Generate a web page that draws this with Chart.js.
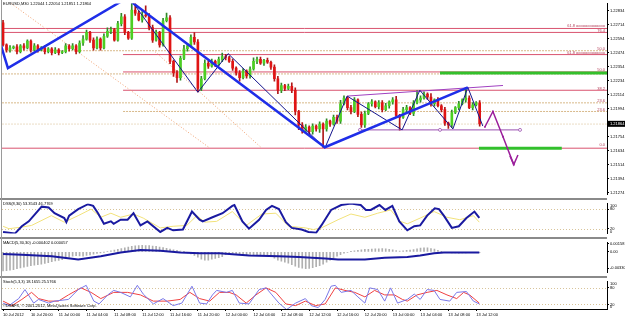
<!DOCTYPE html>
<html>
<head>
<meta charset="utf-8">
<script src="https://cdn.jsdelivr.net/npm/chart.js@4.4.0/dist/chart.umd.min.js"></script>
<style>
body { margin: 0; background: #fff; }
#wrap { position: relative; width: 625px; height: 319px; overflow: hidden; background: #fff; font-family: 'Liberation Sans', Arial, sans-serif; }
.pane { position: absolute; left: 0; }
.sep { position: absolute; left: 0; width: 607px; height: 2px; background: #8a8a8a; z-index: 5; }
.ttl { position: absolute; left: 3px; font-size: 4px; line-height: 5px; color: #000; white-space: nowrap; z-index: 6; }
#lborder { position: absolute; left: 1px; top: 0; width: 1px; height: 310px; background: #9a9a9a; z-index: 5; }
</style>
</head>
<body>
<div id="wrap">
  <canvas id="main" class="pane" style="top:0" width="625" height="198"></canvas>
  <div class="sep" style="top:198px"></div>
  <canvas id="dss" class="pane" style="top:200px" width="625" height="37"></canvas>
  <div class="sep" style="top:237px"></div>
  <canvas id="macd" class="pane" style="top:239px" width="625" height="37"></canvas>
  <div class="sep" style="top:276px"></div>
  <canvas id="stoch" class="pane" style="top:278px" width="625" height="41"></canvas>
  <div id="lborder"></div>
  <div class="ttl" style="top:1px">EURUSD,M30 1.22044 1.22054 1.21851 1.21864</div>
  <div class="ttl" style="top:201px">DSS(8,30) 53.3543 46.7769</div>
  <div class="ttl" style="top:240px">MACD(5,30,30) -0.000402 0.000057</div>
  <div class="ttl" style="top:279px">Stoch(5,3,3) 18.1655 25.5766</div>
  <div class="ttl" style="top:303px">©DSAFX, © 2001-2012, MetaQuotes Software Corp.</div>
</div>
<script>
// ---- データ ----
const FONT = "'Liberation Sans', Arial, sans-serif";
const X_MIN = -0.3;
const X_MAX = 173.6;
const PIP = 0.0001;

// 10 Jul 16:00 から 30分足
const FIRST_OPEN = 1.22731;
const closes = [
    1.22541, 1.22499, 1.22516, 1.22524, 1.22483, 1.22533, 1.22516, 1.22574, 1.22499, 1.22533,
    1.22499, 1.22516, 1.22483, 1.22508, 1.22475, 1.22499, 1.22475, 1.22483, 1.22533, 1.22508,
    1.22533, 1.22483, 1.22557, 1.22591, 1.22648, 1.22582, 1.22516, 1.22591, 1.22516, 1.22615,
    1.22657, 1.22673, 1.22582, 1.22723, 1.22781, 1.22648, 1.22599, 1.22839, 1.22814, 1.22756,
    1.22797, 1.22789, 1.22690, 1.22582, 1.22648, 1.22541, 1.22748, 1.22773, 1.22400, 1.22301,
    1.22259, 1.22425, 1.22508, 1.22533, 1.22607, 1.22566, 1.22168, 1.22251, 1.22384, 1.22359,
    1.22400, 1.22375, 1.22417, 1.22441, 1.22433, 1.22400, 1.22342, 1.22301, 1.22259, 1.22317,
    1.22276, 1.22334, 1.22400, 1.22417, 1.22384, 1.22408, 1.22392, 1.22350, 1.22251, 1.22152,
    1.22193, 1.22168, 1.22185, 1.22152, 1.21970, 1.21854, 1.21804, 1.21837, 1.21796, 1.21845,
    1.21821, 1.21862, 1.21821, 1.21887, 1.21862, 1.21920, 1.21887, 1.22036, 1.22085, 1.22003,
    1.21970, 1.22069, 1.21945, 1.21854, 1.21953, 1.22036, 1.22052, 1.22011, 1.22044, 1.21986,
    1.22019, 1.22052, 1.22069, 1.21936, 1.21920, 1.21986, 1.22003, 1.21953, 1.22044, 1.22069,
    1.22085, 1.22119, 1.22094, 1.22036, 1.22069, 1.22019, 1.21986, 1.21870, 1.21854, 1.21961,
    1.22003, 1.22036, 1.22069, 1.22085, 1.22003, 1.22027, 1.22044, 1.21864
];
// ヒゲの長さ (pips)
const wickUp = [
    2, 1, 2, 1, 2, 1, 2, 1, 1, 2, 1, 1, 2, 1, 1, 2, 1, 1, 2, 1,
    2, 1, 2, 3, 2, 1, 2, 2, 1, 2, 3, 2, 1, 2, 3, 2, 1, 6, 6, 2,
    3, 8, 2, 2, 2, 1, 2, 4, 2, 1, 2, 2, 3, 2, 2, 4, 2, 2, 3, 2,
    2, 1, 2, 3, 2, 1, 2, 1, 2, 2, 1, 2, 3, 2, 2, 1, 2, 1, 2, 2,
    2, 1, 2, 3, 2, 1, 2, 2, 1, 2, 1, 2, 1, 2, 1, 2, 2, 3, 2, 1,
    2, 2, 1, 2, 2, 1, 2, 1, 2, 2, 2, 1, 2, 3, 1, 2, 2, 1, 2, 8,
    2, 2, 1, 3, 1, 2, 1, 2, 1, 2, 1, 2, 1, 9, 2, 2, 1, 2
];
const wickDn = [
    1, 2, 2, 1, 2, 1, 2, 1, 2, 1, 2, 1, 2, 1, 2, 1, 2, 1, 1, 2,
    1, 2, 1, 2, 1, 2, 2, 1, 2, 1, 1, 2, 1, 1, 2, 2, 1, 1, 2, 1,
    2, 1, 2, 2, 1, 2, 1, 1, 2, 3, 4, 2, 1, 2, 1, 2, 3, 2, 1, 2,
    1, 2, 1, 2, 2, 1, 2, 2, 3, 1, 2, 2, 1, 2, 1, 2, 1, 2, 2, 3,
    2, 2, 1, 2, 3, 4, 2, 2, 3, 2, 2, 3, 16, 2, 2, 1, 2, 2, 1, 2,
    2, 1, 2, 2, 2, 1, 2, 1, 2, 2, 1, 2, 2, 2, 11, 1, 2, 1, 2, 1,
    2, 1, 2, 2, 2, 1, 2, 2, 3, 2, 1, 2, 1, 2, 1, 2, 1, 2
];

const priceTicks = [1.21274, 1.21394, 1.21514, 1.21634, 1.21754, 1.21874, 1.21994, 1.22114,
    1.22234, 1.22354, 1.22474, 1.22594, 1.22714, 1.22834];
const lastPrice = 1.21864;
const timeTicks = [0, 8, 16, 24, 32, 40, 48, 56, 64, 72, 80, 88, 96, 104, 112, 120, 128, 136];

// 水平線 (フィボ)
const levelPrices = [1.22682, 1.22648, 1.22491, 1.22458, 1.22309, 1.22292, 1.22152, 1.22044, 1.21970, 1.21862, 1.21655];
const levelFrom   = [X_MIN, X_MIN, X_MIN, 34.5, 34.5, X_MIN, 34.5, X_MIN, 34.5, X_MIN, X_MIN];
const levelKind   = ['red', 'red', 'tan', 'red', 'red', 'tan', 'red', 'tan', 'tan', 'faint', 'red'];
const fibTexts  = ['61.8 ooooooooooooo', '76.4', '50.0', '61.8 ooooooooooooo', '50.0', '38.2', '23.6', '23.6', '0.0'];
const fibPrices = [1.22706, 1.22665, 1.22508, 1.22475, 1.22326, 1.22168, 1.22061, 1.21986, 1.21680];

// 描画オブジェクト [bar, price]
const thickTrend = [[-0.9, 1.22566], [1.4, 1.22342], [35.5, 1.22941], [92.5, 1.21663], [133.6, 1.22177]];
const thinZigzag = [[36.5, 1.22938], [56, 1.22135], [64.7, 1.22466], [92.5, 1.21655], [98.9, 1.22102],
    [114.7, 1.21812], [119.8, 1.22152], [129.3, 1.21820], [133.6, 1.22177], [137.9, 1.21845]];
const fanLineA = [[2.3, 1.22897], [59.5, 1.21655]];
const fanLineB = [[43.7, 1.22483], [74.4, 1.21655]];
const channelTop = [[98.9, 1.22102], [143.7, 1.22193]];
const channelBottom = [[102.6, 1.21812], [125.6, 1.21812], [148.6, 1.21812]];
const zoneUpper = [[125.6, 1.22301], [173.6, 1.22301]];
const zoneLower = [[136.8, 1.21655], [160.6, 1.21655]];
const forecastPath = [[138.5, 1.21837], [140.8, 1.21970], [143.7, 1.21754], [146.8, 1.21514]];
const arrowHead = [[145.7, 1.21589], [146.8, 1.21514], [148.0, 1.21597]];

// DSS
const dssMain = [[0, 10], [3.4, 5], [5.4, 27.5], [7.4, 42.5], [11.1, 87.5], [13.1, 85], [14.8, 67.5], [17.6, 52.5],
    [18.2, 40], [19, 60], [21.6, 80], [24.4, 95], [25.9, 90], [27.3, 67.5], [29, 35], [31, 42.5], [31.8, 35],
    [33.8, 47.5], [35.8, 47.5], [37.5, 67.5], [39.5, 30], [41.5, 42.5], [45.2, 10], [47.2, 22.5], [48.9, 15],
    [51.7, 17.5], [54.3, 72.5], [56.5, 47.5], [57.4, 42.5], [60.2, 55], [63.1, 67.5], [65.9, 90], [66.5, 92.5],
    [68.8, 42.5], [70.7, 20], [73.6, 47.5], [75.6, 77.5], [77.3, 90], [79.3, 80], [81.3, 40], [83, 22.5],
    [85.8, 17.5], [87.8, 10], [90, 7.5], [91.5, 30], [94.3, 77.5], [97.2, 92.5], [100, 97], [102.8, 92.5],
    [104.3, 77.5], [105.7, 77.5], [108.2, 92.5], [109.9, 77.5], [111.9, 90], [113.9, 42.5], [116.2, 15],
    [118.2, 27.5], [119.9, 30], [121.9, 60], [124.1, 82.5], [125.3, 80], [126.7, 60], [129, 22.5], [131, 27.5],
    [133.2, 52.5], [135.5, 72.5], [136.9, 53.4]];
const dssSignal = [[0, 27.5], [1.7, 20], [5.4, 25], [8.2, 30], [13.9, 60], [17.6, 40], [21.6, 60], [25.3, 80],
    [28.1, 55], [31, 67.5], [33.8, 55], [37.5, 65], [40.3, 52.5], [45.2, 22.5], [48.9, 27.5], [52.8, 30],
    [55.7, 60], [58, 40], [61.4, 42.5], [65.9, 72.5], [69.9, 30], [74.4, 65], [78.4, 67.5], [82.1, 27.5],
    [86.9, 22.5], [89.2, 17.5], [91.5, 22.5], [96.3, 47.5], [100, 65], [104, 55], [107.7, 67.5], [111.4, 77.5],
    [114.2, 42.5], [116.2, 35], [119.9, 52.5], [123.9, 72.5], [127.6, 55], [131.3, 47.5], [135.2, 60], [136.9, 40]];
const oscLevels = [80, 20];

// MACD
const macdHist = [
    -0.00387, -0.00380, -0.00372, -0.00360, -0.00340, -0.00325, -0.00310, -0.00295, -0.00280, -0.00270,
    -0.00262, -0.00250, -0.00235, -0.00220, -0.00200, -0.00185, -0.00175, -0.00160, -0.00140, -0.00110,
    -0.00090, -0.00080, -0.00085, -0.00088, -0.00075, -0.00062, -0.00050, -0.00035, -0.00020, -0.00005,
    0.00010, 0.00020, 0.00035, 0.00050, 0.00065, 0.00080, 0.00097, 0.00110, 0.00120, 0.00128,
    0.00130, 0.00128, 0.00125, 0.00118, 0.00110, 0.00097, 0.00085, 0.00070, 0.00055, 0.00040,
    0.00028, 0.00015, 0.00005, -0.00020, -0.00045, -0.00075, -0.00110, -0.00150, -0.00170, -0.00168,
    -0.00150, -0.00135, -0.00120, -0.00100, -0.00060, -0.00040, -0.00030, -0.00038, -0.00050, -0.00060,
    -0.00062, -0.00070, -0.00075, -0.00078, -0.00074, -0.00070, -0.00075, -0.00090, -0.00130, -0.00170,
    -0.00190, -0.00210, -0.00230, -0.00262, -0.00290, -0.00315, -0.00330, -0.00340, -0.00335, -0.00320,
    -0.00300, -0.00280, -0.00250, -0.00210, -0.00170, -0.00130, -0.00090, -0.00060, -0.00030, -0.00010,
    0.00005, 0.00020, 0.00030, 0.00040, 0.00048, 0.00050, 0.00055, 0.00060, 0.00062, 0.00066,
    0.00060, 0.00050, 0.00040, 0.00025, 0.00015, 0.00020, 0.00030, 0.00034, 0.00045, 0.00060,
    0.00075, 0.00081, 0.00078, 0.00066, 0.00055, 0.00030, 0.00005, -0.00010, -0.00015, -0.00020,
    -0.00025, -0.00028, -0.00025, -0.00020, -0.00018, -0.00015, -0.00012, -0.00010
];
const macdSignal = [[0, -0.00044], [5.4, -0.00059], [14, -0.0009], [21.6, -0.00153], [28.1, -0.0009],
    [33.8, -0.00012], [39.5, 0.00034], [45.2, 0.00019], [50.9, -0.00012], [56.5, -0.00028], [62.2, -0.00028],
    [70.7, -0.00075], [79.3, -0.0009], [85, -0.00106], [92.6, -0.00137], [96.3, -0.00153], [104, -0.00153],
    [109.7, -0.00122], [116.2, -0.00106], [119.9, -0.00075], [123.9, -0.00028], [126.7, -0.00012], [136.9, -0.00012]];
const macdTicks = [0.00158, 0, -0.0033];

// Stochastic
const stochMain = [[0, 25], [1.7, 16], [4.5, 41], [6.3, 73], [8.8, 25], [10.2, 38], [13.1, 25], [14.8, 32],
    [18.8, 38], [21.6, 73], [23.9, 88], [26.1, 32], [27.6, 22], [30.1, 54], [31.8, 70], [33.8, 63], [36.6, 47],
    [38.6, 88], [40.3, 57], [43.2, 22], [46, 41], [48.9, 16], [51.4, 25], [54.3, 85], [56.5, 25], [58.5, 22],
    [60.2, 54], [61.4, 70], [64.2, 63], [65.9, 70], [67.9, 25], [70.7, 22], [73.6, 73], [75.6, 79], [77.3, 54],
    [79.3, 25], [81.5, 2], [84.1, 25], [86.9, 41], [88.6, 16], [90.6, 9], [92.6, 38], [94.3, 85], [95.5, 88],
    [97.2, 63], [100, 70], [102, 47], [104, 25], [105.4, 79], [107.7, 73], [109.7, 32], [111.4, 79], [113.4, 25],
    [116.2, 38], [118.2, 57], [119.9, 38], [121.9, 73], [123.9, 70], [125.6, 38], [128.4, 32], [130.4, 63],
    [133.2, 66], [135.2, 32], [136.9, 22]];
const stochSignal = [[0, 32], [2.6, 16], [5.4, 38], [8.2, 63], [10.2, 41], [13.1, 32], [15.9, 32], [18.8, 54],
    [22.4, 79], [25.3, 63], [28.1, 41], [31.8, 63], [35.8, 63], [39.5, 54], [43.2, 32], [47.2, 32], [50.9, 38],
    [53.7, 63], [56.5, 41], [59.4, 32], [62.2, 63], [65, 63], [67, 54], [69.9, 25], [72.7, 54], [75.6, 79],
    [78.4, 63], [81.3, 22], [84.1, 16], [86.9, 32], [89.8, 16], [92.6, 22], [95.5, 79], [98.3, 70], [101.1, 63],
    [104, 47], [106.8, 70], [109.7, 54], [112.5, 54], [114.8, 38], [116.2, 32], [119, 54], [121.9, 63],
    [124.7, 70], [127.6, 54], [130.4, 41], [132.4, 63], [134.1, 54], [136.9, 25]];

// ---- 補助 ----
const opens = closes.map((c, i) => i === 0 ? FIRST_OPEN : closes[i - 1]);
const highs = closes.map((c, i) => Math.max(c, opens[i]) + wickUp[i] * PIP);
const lows = closes.map((c, i) => Math.min(c, opens[i]) - wickDn[i] * PIP);
const isUp = i => closes[i] >= opens[i];
const pts = arr => arr.map(([x, y]) => ({ x, y }));

function timeLabel(bar) {
    if (bar === 0) return '10 Jul 2012';
    const h = 16 + bar * 0.5;
    const day = 10 + Math.floor(h / 24);
    const hh = String(Math.floor(h % 24)).padStart(2, '0');
    return `${day} Jul ${hh}:00`;
}

const levelStyle = {
    red:   { color: '#d9536f', dash: [] },
    tan:   { color: '#d8b98a', dash: [2, 1] },
    faint: { color: '#eadcc4', dash: [2, 1] },
};

// ---- プラグイン ----
const sideLabels = {
    id: 'sideLabels',
    afterDraw(chart, args, opts) {
        if (!opts || (!opts.top && !opts.bottom)) return;
        const { ctx, chartArea } = chart;
        ctx.save();
        ctx.font = `4px ${FONT}`;
        ctx.fillStyle = '#000';
        ctx.textBaseline = 'middle';
        if (opts.top) ctx.fillText(opts.top, chartArea.right + 3, chartArea.top + 2.5);
        if (opts.bottom) ctx.fillText(opts.bottom, chartArea.right + 3, chartArea.bottom - 2);
        ctx.restore();
    }
};

const levelLines = {
    id: 'levelLines',
    beforeDatasetsDraw(chart, args, opts) {
        if (!opts || !opts.values) return;
        const { ctx, chartArea } = chart;
        const y = chart.scales.y;
        ctx.save();
        ctx.strokeStyle = '#d8c49a';
        ctx.lineWidth = 1;
        ctx.setLineDash([1, 2]);
        opts.values.forEach(v => {
            const py = Math.round(y.getPixelForValue(v)) + 0.5;
            ctx.beginPath();
            ctx.moveTo(chartArea.left, py);
            ctx.lineTo(chartArea.right, py);
            ctx.stroke();
        });
        ctx.restore();
    }
};

const fibText = {
    id: 'fibText',
    afterDatasetsDraw(chart, args, opts) {
        if (!opts || !opts.texts) return;
        const { ctx, chartArea } = chart;
        const y = chart.scales.y;
        ctx.save();
        ctx.font = `4px ${FONT}`;
        ctx.fillStyle = '#b4405a';
        ctx.textAlign = 'right';
        ctx.textBaseline = 'middle';
        opts.texts.forEach((t, i) => ctx.fillText(t, chartArea.right - 2, y.getPixelForValue(opts.prices[i])));
        ctx.restore();
    }
};

const priceTag = {
    id: 'priceTag',
    afterDraw(chart, args, opts) {
        if (!opts || opts.value == null) return;
        const { ctx, chartArea } = chart;
        const py = chart.scales.y.getPixelForValue(opts.value);
        ctx.save();
        ctx.fillStyle = '#000';
        ctx.fillRect(chartArea.right + 1, py - 3, 17, 6);
        ctx.font = `4px ${FONT}`;
        ctx.fillStyle = '#fff';
        ctx.textBaseline = 'middle';
        ctx.fillText(opts.value.toFixed(5), chartArea.right + 3, py);
        ctx.restore();
    }
};

Chart.register(sideLabels, levelLines, fibText, priceTag);

// ---- 軸 ----
function xAxis(show) {
    return {
        type: 'linear', min: X_MIN, max: X_MAX, offset: false, display: show,
        afterBuildTicks: s => { s.ticks = timeTicks.map(v => ({ value: v })); },
        afterFit: s => { if (show) s.height = 10; },
        ticks: {
            autoSkip: false, maxRotation: 0, minRotation: 0, align: 'start', padding: 1,
            font: { size: 4, family: FONT }, color: '#000',
            callback: v => timeLabel(v),
        },
        grid: { drawOnChartArea: false, tickLength: 2, color: '#000' },
        border: { display: true, color: '#000' },
    };
}

function yAxis(min, max, tickValues, fmt) {
    return {
        position: 'right', min, max,
        afterFit: s => { s.width = 18; },
        afterBuildTicks: s => { s.ticks = tickValues.map(v => ({ value: v })); },
        ticks: { font: { size: 4, family: FONT }, color: '#000', padding: 1, callback: fmt },
        grid: { drawOnChartArea: false, tickLength: 2, color: '#000' },
        border: { display: true, color: '#000' },
    };
}

function baseOptions(x, y, plugins) {
    return {
        responsive: false,
        animation: false,
        events: [],
        layout: { padding: { left: 2, right: 0, top: 0, bottom: 0 }, autoPadding: false },
        plugins: Object.assign({ legend: { display: false }, tooltip: { enabled: false } }, plugins),
        scales: { x, y },
    };
}

function lineSet(data, color, width, extra) {
    return Object.assign({
        type: 'line', data: pts(data), borderColor: color, borderWidth: width,
        pointRadius: 0, tension: 0, fill: false, order: 1,
    }, extra);
}

// ---- メインチャート ----
const levelSets = levelPrices.map((p, i) => {
    const st = levelStyle[levelKind[i]];
    return lineSet([[levelFrom[i], p], [X_MAX, p]], st.color, 1, { borderDash: st.dash, order: 30 });
});

new Chart(document.getElementById('main'), {
    type: 'bar',
    data: {
        datasets: [
            lineSet(forecastPath, '#9b1f9b', 1.5, { pointRadius: 1.2, pointStyle: 'rect', pointBackgroundColor: '#9b1f9b', pointBorderWidth: 0, order: 0 }),
            lineSet(arrowHead, '#9b1f9b', 1.5, { order: 0 }),
            lineSet(thickTrend, '#1f2ee8', 2.5, { order: 2 }),
            lineSet(thinZigzag, '#14148c', 1, { order: 2 }),
            lineSet(channelTop, '#a040c0', 1, { order: 2 }),
            lineSet(channelBottom, '#9a50b0', 1, { pointRadius: 1.5, pointBackgroundColor: '#fff', pointBorderColor: '#9a50b0', pointBorderWidth: 0.8, order: 2 }),
            lineSet(zoneUpper, '#33c02c', 3, { order: 3 }),
            lineSet(zoneLower, '#33c02c', 3, { order: 3 }),
            lineSet(fanLineA, '#f0a070', 1, { borderDash: [1, 2], order: 25 }),
            lineSet(fanLineB, '#f0a070', 1, { borderDash: [1, 2], order: 25 }),
            {
                type: 'bar', order: 10, grouped: false, barThickness: 2,
                data: closes.map((c, i) => ({ x: i, y: [opens[i], c] })),
                backgroundColor: ctx => isUp(ctx.dataIndex) ? '#4ccf22' : '#e01414',
                borderWidth: 0,
            },
            {
                type: 'bar', order: 11, grouped: false, barThickness: 1,
                data: closes.map((c, i) => ({ x: i, y: [lows[i], highs[i]] })),
                backgroundColor: ctx => isUp(ctx.dataIndex) ? '#2f8a2a' : '#b01818',
                borderWidth: 0,
            },
            ...levelSets,
        ],
    },
    options: baseOptions(
        xAxis(false),
        yAxis(1.21257, 1.22897, priceTicks, v => v.toFixed(5)),
        { fibText: { texts: fibTexts, prices: fibPrices }, priceTag: { value: lastPrice } }
    ),
});

// ---- DSS ----
new Chart(document.getElementById('dss'), {
    type: 'line',
    data: {
        datasets: [
            lineSet(dssMain, '#1a1aa0', 2),
            lineSet(dssSignal, '#f2e27a', 1, { order: 2 }),
        ],
    },
    options: baseOptions(
        xAxis(false),
        yAxis(5, 97.5, oscLevels, v => String(v)),
        { levelLines: { values: oscLevels }, sideLabels: { top: '100', bottom: '0' } }
    ),
});

// ---- MACD ----
new Chart(document.getElementById('macd'), {
    type: 'bar',
    data: {
        datasets: [
            lineSet(macdSignal, '#1a1aa0', 2),
            {
                type: 'bar', order: 5, barThickness: 1, grouped: false,
                data: macdHist.map((v, i) => ({ x: i, y: v })),
                backgroundColor: '#b0b0b0', borderWidth: 0,
            },
        ],
    },
    options: baseOptions(
        xAxis(false),
        yAxis(-0.0042, 0.0019, macdTicks, v => v === 0 ? '0.00' : v.toFixed(5)),
        {}
    ),
});

// ---- Stochastic ----
new Chart(document.getElementById('stoch'), {
    type: 'line',
    data: {
        datasets: [
            lineSet(stochMain, '#7a78e8', 1),
            lineSet(stochSignal, '#f04040', 1, { order: 2 }),
        ],
    },
    options: baseOptions(
        xAxis(true),
        yAxis(4, 102, oscLevels, v => String(v)),
        { levelLines: { values: oscLevels }, sideLabels: { top: '100', bottom: '0' } }
    ),
});
</script>
</body>
</html>
